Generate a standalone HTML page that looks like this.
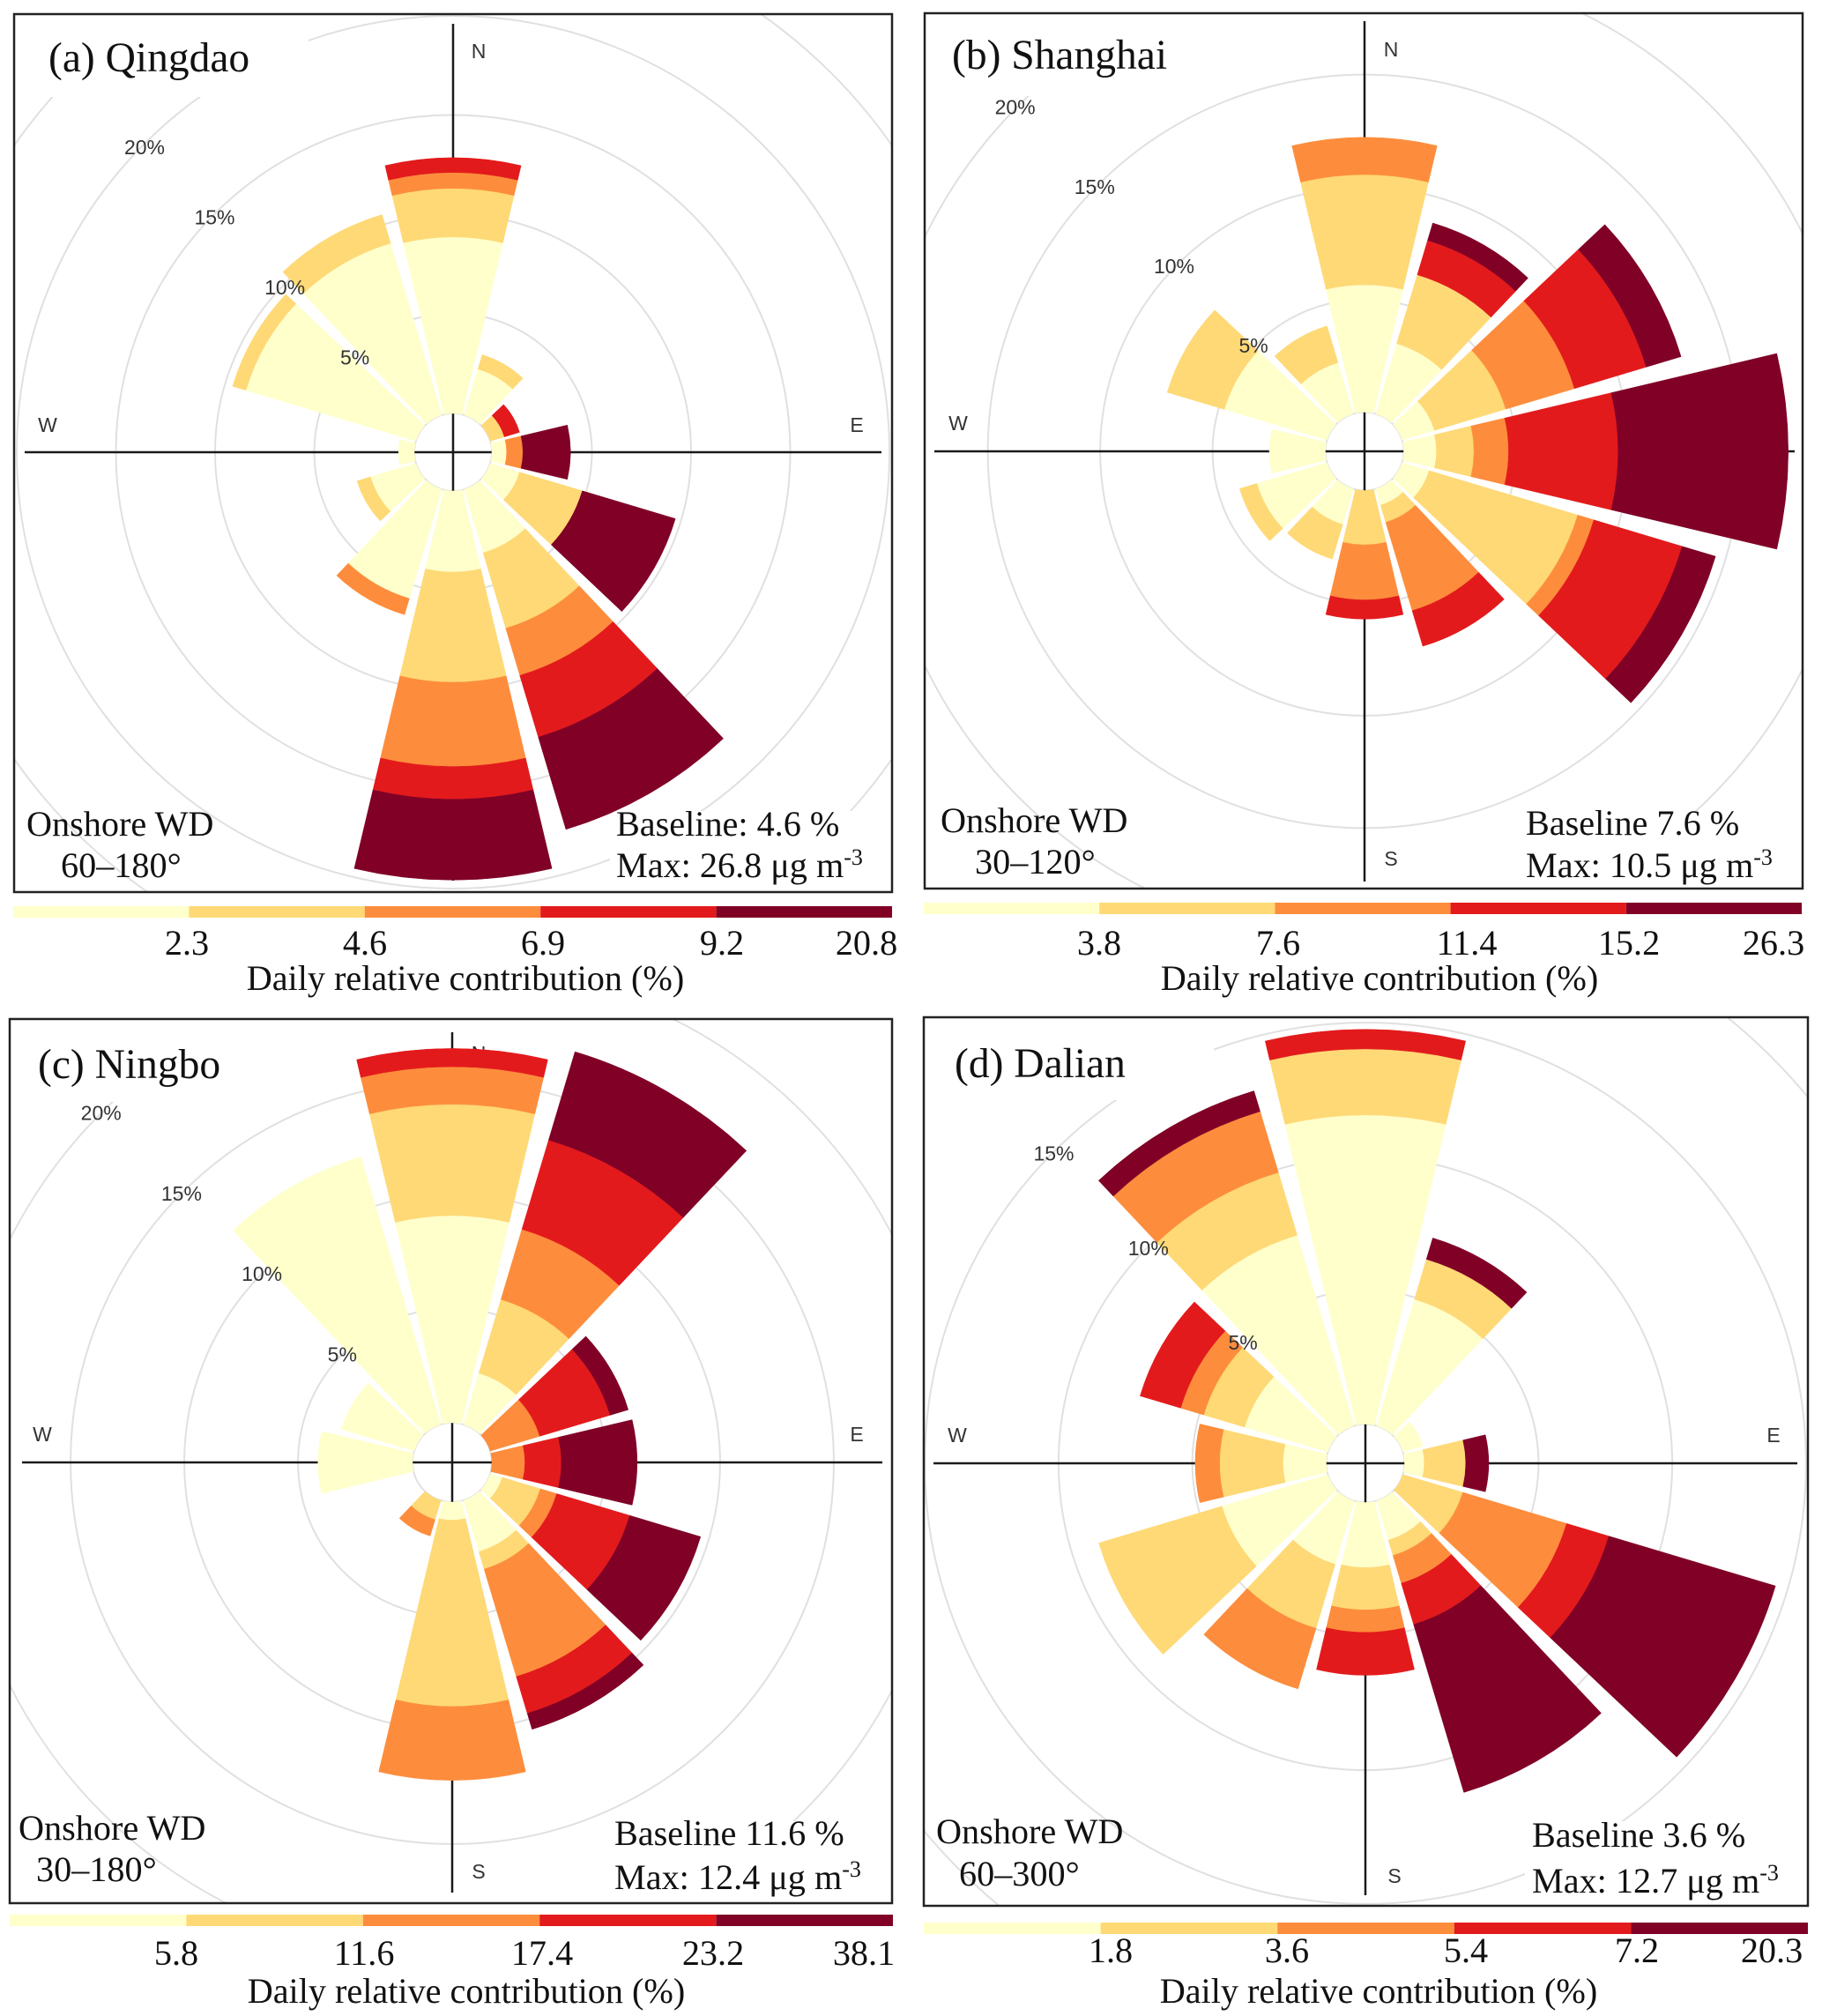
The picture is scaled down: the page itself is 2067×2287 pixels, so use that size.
<!DOCTYPE html>
<html lang="en">
<head>
<meta charset="utf-8">
<title>Daily relative contribution wind roses</title>
<style>
html,body{margin:0;padding:0;background:#fff;}
svg{display:block;}
text{font-family:"Liberation Serif",serif;fill:#111;}
.t48{font-size:47.5px;}
.t40{font-size:40.2px;}
.sup{font-size:26px;}
</style>
</head>
<body>
<svg xmlns="http://www.w3.org/2000/svg" width="2067" height="2287" viewBox="0 0 2067 2287">
<rect x="0" y="0" width="2067" height="2287" fill="#fff"/>
<defs>
<clipPath id="clip-a"><rect x="16" y="16" width="996" height="996"/></clipPath>
<clipPath id="clip-b"><rect x="1049" y="15" width="996" height="993"/></clipPath>
<clipPath id="clip-c"><rect x="11" y="1156" width="1001" height="1003"/></clipPath>
<clipPath id="clip-d"><rect x="1048" y="1154" width="1003" height="1008"/></clipPath>
</defs>

<g>
<g id="rings-a" clip-path="url(#clip-a)"></g>
<rect x="16" y="16" width="334" height="94" fill="#fff"/>
<rect x="692" y="920" width="320" height="92" fill="#fff"/>
<g id="wedges-a"></g>
<rect x="16" y="16" width="996" height="996" fill="none" stroke="#222" stroke-width="2.5"/>
<text class="t48" x="55" y="81">(a) Qingdao</text>
<text class="t40" x="30" y="948">Onshore WD</text>
<text class="t40" x="69" y="995">60–180°</text>
<text class="t40" x="699" y="948">Baseline: 4.6 %</text>
<text class="t40" x="699" y="995">Max: 26.8 μg m<tspan class="sup" dy="-14">-3</tspan></text>
<g id="bar-a"></g>
<text class="t40" x="528" y="1123" text-anchor="middle">Daily relative contribution (%)</text>
</g>

<g>
<g id="rings-b" clip-path="url(#clip-b)"></g>
<rect x="1049" y="15" width="336" height="94" fill="#fff"/>
<rect x="1725" y="920" width="320" height="88" fill="#fff"/>
<g id="wedges-b"></g>
<rect x="1049" y="15" width="996" height="993" fill="none" stroke="#222" stroke-width="2.5"/>
<text class="t48" x="1080" y="78">(b) Shanghai</text>
<text class="t40" x="1067" y="944">Onshore WD</text>
<text class="t40" x="1106" y="991">30–120°</text>
<text class="t40" x="1731" y="947">Baseline 7.6 %</text>
<text class="t40" x="1731" y="995">Max: 10.5 μg m<tspan class="sup" dy="-14">-3</tspan></text>
<g id="bar-b"></g>
<text class="t40" x="1565" y="1123" text-anchor="middle">Daily relative contribution (%)</text>
</g>

<g>
<g id="rings-c" clip-path="url(#clip-c)"></g>
<rect x="11" y="1156" width="334" height="94" fill="#fff"/>
<rect x="692" y="2066" width="320" height="93" fill="#fff"/>
<g id="wedges-c"></g>
<rect x="11" y="1156" width="1001" height="1003" fill="none" stroke="#222" stroke-width="2.5"/>
<text class="t48" x="43" y="1223">(c) Ningbo</text>
<text class="t40" x="21" y="2087">Onshore WD</text>
<text class="t40" x="41" y="2134">30–180°</text>
<text class="t40" x="697" y="2093">Baseline 11.6 %</text>
<text class="t40" x="697" y="2143">Max: 12.4 μg m<tspan class="sup" dy="-14">-3</tspan></text>
<g id="bar-c"></g>
<text class="t40" x="529" y="2272" text-anchor="middle">Daily relative contribution (%)</text>
</g>

<g>
<g id="rings-d" clip-path="url(#clip-d)"></g>
<rect x="1048" y="1154" width="329" height="94" fill="#fff"/>
<rect x="1730" y="2066" width="321" height="96" fill="#fff"/>
<g id="wedges-d"></g>
<rect x="1048" y="1154" width="1003" height="1008" fill="none" stroke="#222" stroke-width="2.5"/>
<text class="t48" x="1083" y="1222">(d) Dalian</text>
<text class="t40" x="1062" y="2091">Onshore WD</text>
<text class="t40" x="1088" y="2139">60–300°</text>
<text class="t40" x="1738" y="2095">Baseline 3.6 %</text>
<text class="t40" x="1738" y="2147">Max: 12.7 μg m<tspan class="sup" dy="-14">-3</tspan></text>
<g id="bar-d"></g>
<text class="t40" x="1564" y="2272" text-anchor="middle">Daily relative contribution (%)</text>
</g>
</svg>

<script>
// Categories
const directions = [0, 30, 60, 90, 120, 150, 180, 210, 240, 270, 300, 330];
const binColors = ['#FFFFCC', '#FED976', '#FD8D3C', '#E31A1C', '#800026'];

// Qingdao: frequency (%) per direction for each concentration bin
const qingdaoBin1 = [8.85, 2.38, 0, 0.7, 1.5, 3.3, 4.05, 5.7, 2.35, 0.75, 8.9, 9];
const qingdaoBin2 = [2.45, 0.75, 0.7, 0, 3.3, 3.97, 5.55, 0, 0.7, 0, 0.7, 1.5];
const qingdaoBin3 = [0.8, 0, 0, 0.82, 0, 2.48, 4.25, 0.85, 0, 0, 0, 0];
const qingdaoBin4 = [0.75, 0, 0.8, 0, 0, 3.25, 1.65, 0, 0, 0, 0, 0];
const qingdaoBin5 = [0, 0, 0, 2.4, 4.9, 4.85, 4.07, 0, 0, 0, 0, 0];
const qingdaoTicks = ['2.3', '4.6', '6.9', '9.2', '20.8'];

// Shanghai
const shanghaiBin1 = [5.65, 3.24, 1.49, 1.44, 1.24, 0.74, 0, 1.64, 3.24, 2.47, 4.75, 2.36];
const shanghaiBin2 = [4.9, 3.2, 3.31, 1.67, 6.9, 0.8, 2.4, 1.6, 0.8, 0, 2.65, 1.7];
const shanghaiBin3 = [1.66, 0, 3.19, 1.54, 0.75, 4.1, 2.45, 0, 0, 0, 0, 0];
const shanghaiBin4 = [0, 1.6, 3.33, 4.87, 4.1, 1.65, 0.85, 0, 0, 0, 0, 0];
const shanghaiBin5 = [0, 0.8, 1.62, 7.57, 1.55, 0, 0, 0, 0, 0, 0, 0];
const shanghaiTicks = ['3.8', '7.6', '11.4', '15.2', '26.3'];

// Ningbo
const ningboBin1 = [9.07, 2.32, 0, 0, 0.52, 2.32, 0.76, 0, 0, 4.12, 3.3, 12.25];
const ningboBin2 = [4.9, 3.38, 0, 0, 1.75, 0.8, 8.19, 0.85, 0, 0, 0, 0];
const ningboBin3 = [1.65, 3.22, 2.24, 1.42, 0.75, 4.93, 3.25, 0.75, 0, 0, 0, 0];
const ningboBin4 = [0.8, 4.1, 3.23, 1.6, 3.35, 1.69, 0, 0, 0, 0, 0, 0];
const ningboBin5 = [0, 4.05, 0.83, 3.33, 3.25, 0.73, 0, 0, 0, 0, 0, 0];
const ningboTicks = ['5.8', '11.6', '17.4', '23.2', '38.1'];

// Dalian
const dalianBin1 = [11.55, 4.93, 0.78, 0.73, 0, 1.53, 2.43, 2.47, 4.13, 1.61, 3.24, 7.43];
const dalianBin2 = [2.47, 1.56, 0, 1.55, 2.33, 0.6, 1.58, 2.5, 4.8, 2.37, 1.6, 2.45];
const dalianBin3 = [0, 0, 0, 0, 4.05, 1.08, 0.84, 2.36, 0, 0.91, 0.9, 2.38];
const dalianBin4 = [0.73, 0, 0, 0, 1.65, 1.61, 1.6, 0, 0, 0, 1.58, 0];
const dalianBin5 = [0, 0.83, 0, 0.86, 6.5, 6.55, 0, 0, 0, 0, 0, 0.8];
const dalianTicks = ['1.8', '3.6', '5.4', '7.2', '20.3'];

// Radial axis tick values (%)
const ringValues = [5, 10, 15, 20, 25];

const NS = 'http://www.w3.org/2000/svg';
const HALF_WIDTH = 13.35;

const panels = [
  { id: 'a', name: 'qingdao', cx: 514, cy: 513, k: 22.5, t0: 2, hole: 44, cross: 486, maxRing: 25, labelMax: 20, labelDx: 0, labelDy: 4,
    bins: [qingdaoBin1, qingdaoBin2, qingdaoBin3, qingdaoBin4, qingdaoBin5],
    ticks: qingdaoTicks, tickX: [212, 414, 616, 819, 983], tickY: 1083,
    bar: { x0: 15, x1: 1012, y: 1028, h: 13 }, letters: { N: [29, -455], S: [29, 463], E: [458, -31], W: [-460, -31] } },
  { id: 'b', name: 'shanghai', cx: 1548, cy: 512, k: 25.5, t0: 1.76, hole: 44.5, cross: 488, maxRing: 20, labelMax: 20, labelDx: -4, labelDy: 2,
    bins: [shanghaiBin1, shanghaiBin2, shanghaiBin3, shanghaiBin4, shanghaiBin5],
    ticks: shanghaiTicks, tickX: [1247, 1450, 1664, 1848, 2012], tickY: 1083,
    bar: { x0: 1048, x1: 2044, y: 1024, h: 13 }, letters: { N: [30, -456], S: [30, 462], W: [-461, -32] } },
  { id: 'c', name: 'ningbo', cx: 513, cy: 1659, k: 25.8, t0: 1.78, hole: 45, cross: 488, maxRing: 20, labelMax: 20, labelDx: -1, labelDy: 1,
    bins: [ningboBin1, ningboBin2, ningboBin3, ningboBin4, ningboBin5],
    ticks: ningboTicks, tickX: [200, 413, 615, 809, 980], tickY: 2229,
    bar: { x0: 11, x1: 1013, y: 2172, h: 13 }, letters: { N: [30, -464], S: [30, 464], E: [459, -32], W: [-465, -32] } },
  { id: 'd', name: 'dalian', cx: 1549, cy: 1660, k: 30.35, t0: 1.47, hole: 44.5, cross: 490, maxRing: 20, labelMax: 15, labelDx: 0, labelDy: 2,
    bins: [dalianBin1, dalianBin2, dalianBin3, dalianBin4, dalianBin5],
    ticks: dalianTicks, tickX: [1260, 1460, 1663, 1857, 2010], tickY: 2226,
    bar: { x0: 1048, x1: 2051, y: 2181, h: 13 }, letters: { S: [33, 468], E: [463, -32], W: [-463, -32] } }
];

function polar(p, value, deg) {
  const r = (value + p.t0) * p.k;
  const a = deg * Math.PI / 180;
  return [p.cx + r * Math.sin(a), p.cy - r * Math.cos(a)];
}

function sectorPath(p, dir, from, to) {
  const rOuter = (to + p.t0) * p.k;
  const rInner = from <= 0 ? p.hole : (from + p.t0) * p.k;
  const a0 = (dir - HALF_WIDTH) * Math.PI / 180;
  const a1 = (dir + HALF_WIDTH) * Math.PI / 180;
  const pt = (r, a) => (p.cx + r * Math.sin(a)).toFixed(1) + ' ' + (p.cy - r * Math.cos(a)).toFixed(1);
  return 'M' + pt(rInner, a0) + ' L' + pt(rOuter, a0) +
    ' A' + rOuter.toFixed(1) + ' ' + rOuter.toFixed(1) + ' 0 0 1 ' + pt(rOuter, a1) +
    ' L' + pt(rInner, a1) +
    ' A' + rInner.toFixed(1) + ' ' + rInner.toFixed(1) + ' 0 0 0 ' + pt(rInner, a0) + ' Z';
}

function smallText(parent, x, y, str, name) {
  const t = document.createElementNS(NS, 'text');
  t.setAttribute('x', x.toFixed(1));
  t.setAttribute('y', y.toFixed(1));
  t.setAttribute('text-anchor', 'middle');
  t.setAttribute('style', 'font-family:"Liberation Sans",sans-serif;font-size:23px;fill:#333;');
  
  
  t.textContent = str;
  parent.appendChild(t);
}

panels.forEach(function (p) {
  const rings = document.getElementById('rings-' + p.id);
  const wedges = document.getElementById('wedges-' + p.id);
  const bar = document.getElementById('bar-' + p.id);

  // Rings, including the inner hole edge
  [0].concat(ringValues).forEach(function (v) {
    if (v > p.maxRing) return;
    const c = document.createElementNS(NS, 'circle');
    c.setAttribute('cx', p.cx);
    c.setAttribute('cy', p.cy);
    c.setAttribute('r', v === 0 ? p.hole : (v + p.t0) * p.k);
    c.setAttribute('fill', 'none');
    c.setAttribute('stroke', '#e0e0e0');
    c.setAttribute('stroke-width', '2');
    
    
    rings.appendChild(c);
  });

  // Cross axes
  [[p.cx - p.cross, p.cy, p.cx + p.cross, p.cy], [p.cx, p.cy - p.cross, p.cx, p.cy + p.cross]].forEach(function (s, i) {
    const l = document.createElementNS(NS, 'line');
    l.setAttribute('x1', s[0]);
    l.setAttribute('y1', s[1]);
    l.setAttribute('x2', s[2]);
    l.setAttribute('y2', s[3]);
    l.setAttribute('stroke', '#1a1a1a');
    l.setAttribute('stroke-width', '2.5');
    
    
    wedges.appendChild(l);
  });

  // Compass letters
  Object.keys(p.letters).forEach(function (key) {
    smallText(wedges, p.cx + p.letters[key][0], p.cy + p.letters[key][1] + 8, key, p.name + '-compass-' + key.toLowerCase());
  });

  // Wedges stacked from the bins
  directions.forEach(function (dir, i) {
    let total = 0;
    p.bins.forEach(function (series, b) {
      const v = series[i];
      if (v > 0) {
        const path = document.createElementNS(NS, 'path');
        path.setAttribute('d', sectorPath(p, dir, total, total + v));
        path.setAttribute('fill', binColors[b]);
        path.setAttribute('stroke', binColors[b]);
        path.setAttribute('stroke-width', '0.5');
        
        
        wedges.appendChild(path);
      }
      total += v;
    });
  });

  // Ring labels
  ringValues.forEach(function (v) {
    if (v > p.labelMax) return;
    const pos = polar(p, v, 315);
    smallText(wedges, pos[0] + p.labelDx, pos[1] + 8 + p.labelDy, v + '%', p.name + '-ring-label-' + v);
  });

  // Colour bar and ticks
  const step = (p.bar.x1 - p.bar.x0) / binColors.length;
  binColors.forEach(function (col, b) {
    const r = document.createElementNS(NS, 'rect');
    r.setAttribute('x', (p.bar.x0 + b * step).toFixed(1));
    r.setAttribute('y', p.bar.y);
    r.setAttribute('width', step.toFixed(1));
    r.setAttribute('height', p.bar.h);
    r.setAttribute('fill', col);
    
    
    bar.appendChild(r);
  });
  p.ticks.forEach(function (label, i) {
    const t = document.createElementNS(NS, 'text');
    t.setAttribute('class', 't40');
    t.setAttribute('x', p.tickX[i]);
    t.setAttribute('y', p.tickY);
    t.setAttribute('text-anchor', 'middle');
    
    
    t.textContent = label;
    bar.appendChild(t);
  });
});
</script>
</body>
</html>
